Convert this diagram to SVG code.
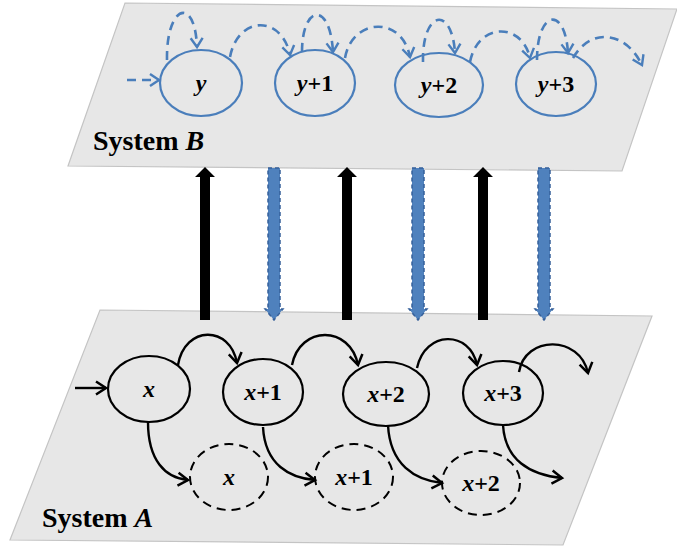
<svg xmlns="http://www.w3.org/2000/svg" width="677" height="549" viewBox="0 0 677 549">
<style>
.plane{fill:#E7E7E7;stroke:#C4C4C4;stroke-width:1.2}
.bnode{fill:none;stroke:#4A7EBB;stroke-width:2.2}
.anode{fill:none;stroke:#000;stroke-width:2.2}
.dnode{fill:none;stroke:#000;stroke-width:2;stroke-dasharray:9 6}
.barc{fill:none;stroke:#4A7EBB;stroke-width:2.6;stroke-dasharray:9 6;marker-end:url(#bh)}
.karc{fill:none;stroke:#000;stroke-width:2.4;marker-end:url(#kh)}
.lbl{font-family:"Liberation Serif",serif;font-size:24px;font-weight:bold;text-anchor:middle;fill:#000}
.sys{font-family:"Liberation Serif",serif;font-size:28px;font-weight:bold;fill:#000}
.up{fill:#000}
.down{fill:#4F81BD;stroke:#36609A;stroke-width:1.5;stroke-dasharray:4 3}
</style>
<defs>
<marker id="bh" markerUnits="userSpaceOnUse" markerWidth="20" markerHeight="20" viewBox="-12 -10 14 20" refX="0" refY="0" orient="auto">
<path d="M-9,-6 L0,0 L-9,6" fill="none" stroke="#4A7EBB" stroke-width="2.4"/>
</marker>
<marker id="kh" markerUnits="userSpaceOnUse" markerWidth="20" markerHeight="20" viewBox="-12 -10 14 20" refX="0" refY="0" orient="auto">
<path d="M-10,-6.5 L0,0 L-10,6.5" fill="none" stroke="#000" stroke-width="2.5"/>
</marker>
</defs>
<g id="planeB"><polygon class="plane" points="125,3 677,9 622,171 68,166"/><text class="sys" x="93" y="150">System <tspan font-style="italic">B</tspan></text></g>
<g id="planeA"><polygon class="plane" points="100,310 652,316 563,545 10,540"/><text class="sys" x="42" y="527">System <tspan font-style="italic">A</tspan></text></g>
<g id="nodeY"><ellipse class="bnode" cx="201" cy="83" rx="41" ry="33"/><text class="lbl" x="201" y="91" font-style="italic">y</text></g>
<g id="nodeY1"><ellipse class="bnode" cx="315" cy="83" rx="40" ry="33"/><text class="lbl" x="315" y="91"><tspan font-style="italic">y</tspan>+1</text></g>
<g id="nodeY2"><ellipse class="bnode" cx="439" cy="85" rx="44" ry="32"/><text class="lbl" x="439" y="93"><tspan font-style="italic">y</tspan>+2</text></g>
<g id="nodeY3"><ellipse class="bnode" cx="556" cy="84" rx="40" ry="32"/><text class="lbl" x="556" y="92"><tspan font-style="italic">y</tspan>+3</text></g>
<g id="nodeX"><ellipse class="anode" cx="149" cy="389" rx="41" ry="33"/><text class="lbl" x="149" y="397" font-style="italic">x</text></g>
<g id="nodeX1"><ellipse class="anode" cx="263" cy="392" rx="40" ry="33"/><text class="lbl" x="263" y="400"><tspan font-style="italic">x</tspan>+1</text></g>
<g id="nodeX2"><ellipse class="anode" cx="386" cy="394" rx="43" ry="32"/><text class="lbl" x="386" y="402"><tspan font-style="italic">x</tspan>+2</text></g>
<g id="nodeX3"><ellipse class="anode" cx="503" cy="393" rx="40" ry="32"/><text class="lbl" x="503" y="401"><tspan font-style="italic">x</tspan>+3</text></g>
<g id="ghostX"><ellipse class="dnode" cx="229" cy="477" rx="39" ry="33"/><text class="lbl" x="229" y="485" font-style="italic">x</text></g>
<g id="ghostX1"><ellipse class="dnode" cx="354" cy="477" rx="39" ry="33"/><text class="lbl" x="354" y="485"><tspan font-style="italic">x</tspan>+1</text></g>
<g id="ghostX2"><ellipse class="dnode" cx="481" cy="483" rx="39" ry="32"/><text class="lbl" x="481" y="491"><tspan font-style="italic">x</tspan>+2</text></g>
<g id="connectors">
<path class="barc" d="M127,80 L159,80"/>
<path class="barc" d="M167,60 C166,5 195,-5 197,47"/>
<path class="barc" d="M230,57 C238,15 282,15 290,55"/>
<path class="barc" d="M302,52 C302,5 330,0 333,52"/>
<path class="barc" d="M345,58 C352,18 402,15 410,57"/>
<path class="barc" d="M423,62 C422,10 452,5 455,53"/>
<path class="barc" d="M470,62 C478,22 522,22 530,58"/>
<path class="barc" d="M537,60 C537,10 565,5 568,53"/>
<path class="barc" d="M573,58 C590,28 625,30 642,65"/>
<path class="karc" d="M75,388 L106,388"/>
<path class="karc" d="M178,365 C185,325 230,325 237,363"/>
<path class="karc" d="M292,365 C300,325 350,325 358,365"/>
<path class="karc" d="M417,368 C425,330 470,330 477,365"/>
<path class="karc" d="M519,372 C525,335 580,335 588,373"/>
<path class="karc" d="M148,422 C148,460 165,478 188,480"/>
<path class="karc" d="M263,427 C265,465 290,478 315,480"/>
<path class="karc" d="M388,425 C390,465 415,480 442,483"/>
<path class="karc" d="M503,425 C505,460 530,475 562,478"/>
<path class="up" d="M200,320 L200,177 L195,177 L205,167 L215,177 L210,177 L210,320 Z"/>
<path class="up" d="M342,320 L342,177 L337,177 L347,167 L357,177 L352,177 L352,320 Z"/>
<path class="up" d="M478,320 L478,177 L473,177 L483,167 L493,177 L488,177 L488,320 Z"/>
<path class="down" d="M268,168 L280,168 L280,309 L283,309 L274,320 L265,309 L268,309 Z"/>
<path class="down" d="M412,168 L424,168 L424,309 L427,309 L418,320 L409,309 L412,309 Z"/>
<path class="down" d="M538,168 L550,168 L550,309 L553,309 L544,320 L535,309 L538,309 Z"/>
</g>
</svg>
